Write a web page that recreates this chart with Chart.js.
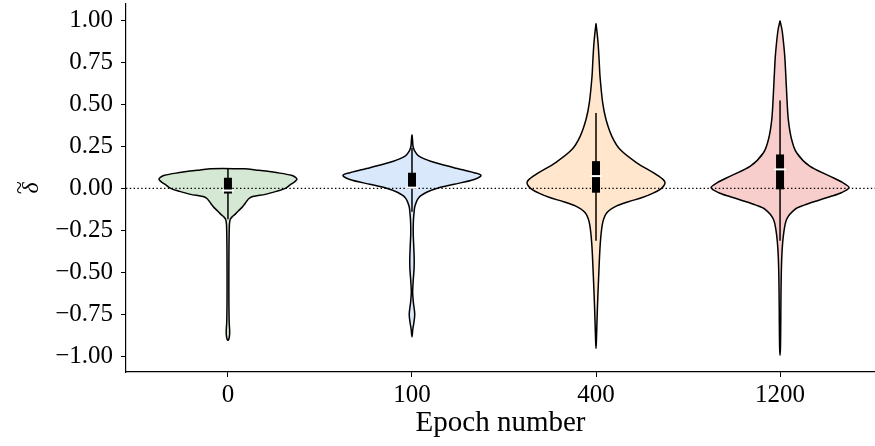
<!DOCTYPE html>
<html>
<head>
<meta charset="utf-8">
<script src="https://cdn.jsdelivr.net/npm/chart.js@4.4.1/dist/chart.umd.min.js"></script>
<style>
  html, body { margin: 0; padding: 0; background: #fff; }
  #wrap { width: 875px; height: 446px; }
</style>
</head>
<body>
<div id="wrap"><canvas id="graph1"></canvas></div>
<script>
// categories
const epochLabels = ['0', '100', '400', '1200'];
const violinColors = ['#d5e8d4', '#dae8fc', '#ffe6cc', '#f8cecc'];

// violin outlines: delta value and relative half width (1 = widest)
const violin0Y = [0.117, 0.110, 0.103, 0.094, 0.078, 0.065, 0.053, 0.040, 0.020, 0.0, -0.018, -0.036, -0.049, -0.062, -0.075, -0.095, -0.115, -0.135, -0.154, -0.170, -0.184, -0.205, -0.224, -0.30, -0.40, -0.50, -0.60, -0.70, -0.80, -0.85, -0.88, -0.90, -0.906];
const violin0W = [0.25, 0.40, 0.55, 0.70, 0.92, 0.98, 1.0, 0.97, 0.90, 0.83, 0.70, 0.54, 0.36, 0.30, 0.275, 0.24, 0.20, 0.15, 0.106, 0.06, 0.034, 0.024, 0.02, 0.016, 0.014, 0.013, 0.013, 0.014, 0.018, 0.025, 0.022, 0.012, 0];

const violin1Y = [0.320, 0.290, 0.251, 0.222, 0.192, 0.162, 0.123, 0.093, 0.077, 0.053, 0.024, 0.004, -0.022, -0.055, -0.105, -0.145, -0.20, -0.27, -0.34, -0.42, -0.48, -0.55, -0.62, -0.68, -0.75, -0.80, -0.84, -0.886];
const violin1W = [0, 0.008, 0.015, 0.04, 0.10, 0.27, 0.61, 0.90, 1.0, 0.90, 0.61, 0.39, 0.22, 0.10, 0.043, 0.03, 0.02, 0.018, 0.025, 0.032, 0.03, 0.018, 0.01, 0.02, 0.04, 0.028, 0.012, 0];

const violin2Y = [0.983, 0.930, 0.865, 0.767, 0.667, 0.509, 0.410, 0.310, 0.231, 0.152, 0.093, 0.053, 0.034, 0.014, -0.006, -0.030, -0.055, -0.080, -0.105, -0.144, -0.204, -0.322, -0.520, -0.718, -0.916, -0.955];
const violin2W = [0, 0.015, 0.03, 0.045, 0.058, 0.097, 0.145, 0.23, 0.35, 0.59, 0.83, 0.97, 1.0, 0.98, 0.93, 0.82, 0.67, 0.47, 0.30, 0.16, 0.097, 0.063, 0.039, 0.02, 0.005, 0];

const violin3Y = [0.999, 0.944, 0.850, 0.766, 0.568, 0.410, 0.291, 0.212, 0.132, 0.073, 0.034, 0.004, -0.026, -0.050, -0.075, -0.100, -0.125, -0.184, -0.283, -0.421, -0.620, -0.817, -0.950, -0.995];
const violin3W = [0, 0.029, 0.055, 0.072, 0.096, 0.12, 0.168, 0.24, 0.43, 0.72, 0.91, 1.0, 0.89, 0.72, 0.53, 0.35, 0.216, 0.096, 0.048, 0.024, 0.014, 0.01, 0.006, 0];

// inner box stats
const whiskerHigh = [0.117, 0.24, 0.449, 0.524];
const whiskerLow = [-0.184, -0.14, -0.313, -0.313];
const quart3 = [0.063, 0.093, 0.162, 0.202];
const quart1 = [-0.031, 0.0, -0.026, -0.006];
const medians = [-0.013, 0.004, 0.073, 0.113];

const yTicks = [-1, -0.75, -0.5, -0.25, 0, 0.25, 0.5, 0.75, 1];

const violinY = [violin0Y, violin1Y, violin2Y, violin3Y];
const violinW = [violin0W, violin1W, violin2W, violin3W];
const halfWidth = 0.375;
const xMin = -0.554;
const xMax = 3.516;

function outline(pos, ys, ws) {
    let pts = [];
    let i;
    for (i = 0; i < ys.length; i++) {
        pts.push({x: pos + ws[i] * halfWidth, y: ys[i]});
    }
    for (i = ys.length - 1; i >= 0; i--) {
        if (ws[i] > 0) {
            pts.push({x: pos - ws[i] * halfWidth, y: ys[i]});
        }
    }
    pts.push(pts[0]);
    return pts;
}

let datasets = [];
let k;
for (k = 0; k < epochLabels.length; k++) {
    datasets.push({
        data: outline(k, violinY[k], violinW[k]),
        showLine: true,
        fill: 'shape',
        backgroundColor: violinColors[k],
        borderColor: '#000',
        borderWidth: 1.5,
        tension: 0.3,
        pointRadius: 0,
        order: 4
    });
    datasets.push({
        data: [{x: k, y: whiskerLow[k]}, {x: k, y: whiskerHigh[k]}],
        showLine: true,
        borderColor: '#000',
        borderWidth: 1.5,
        pointRadius: 0,
        order: 2
    });
    datasets.push({
        data: [{x: k, y: quart1[k]}, {x: k, y: quart3[k]}],
        showLine: true,
        borderColor: '#000',
        borderWidth: 8,
        borderCapStyle: 'butt',
        pointRadius: 0,
        order: 1
    });
    datasets.push({
        data: [{x: k - 0.032, y: medians[k]}, {x: k + 0.032, y: medians[k]}],
        showLine: true,
        borderColor: '#fff',
        borderWidth: 2,
        borderCapStyle: 'butt',
        pointRadius: 0,
        order: 0
    });
}
datasets.push({
    data: [{x: xMin, y: 0}, {x: xMax, y: 0}],
    showLine: true,
    borderColor: '#000',
    borderWidth: 1.4,
    borderDash: [1.4, 2.4],
    pointRadius: 0,
    order: 3
});

let ctx = document.getElementById('graph1').getContext('2d');

let options = {
    responsive: true,
    maintainAspectRatio: false,
    animation: false,
    layout: {padding: {top: 4, right: 0, left: 0, bottom: 0}},
    plugins: {legend: {display: false}, tooltip: {enabled: false}},
    scales: {
        x: {
            type: 'linear',
            min: xMin,
            max: xMax,
            afterBuildTicks: function (scale) {
                scale.ticks = [0, 1, 2, 3].map(function (v) { return {value: v}; });
            },
            afterFit: function (scale) {
                scale.height = 74;
                scale.paddingLeft = 0;
                scale.paddingRight = 0;
            },
            grid: {drawOnChartArea: false, drawTicks: true, tickLength: 5, color: '#000'},
            border: {display: true, color: '#000', width: 1.2},
            ticks: {
                color: '#000',
                padding: 3,
                maxRotation: 0,
                font: {family: 'Liberation Serif', size: 25},
                callback: function (v) { return epochLabels[v]; }
            },
            title: {
                display: true,
                text: 'Epoch number',
                color: '#000',
                padding: {top: 0, bottom: 5},
                font: {family: 'Liberation Serif', size: 29}
            }
        },
        y: {
            type: 'linear',
            min: -1.095,
            max: 1.099,
            afterBuildTicks: function (scale) {
                scale.ticks = yTicks.map(function (v) { return {value: v}; });
            },
            afterFit: function (scale) {
                scale.width = 126;
                scale.paddingTop = 0;
                scale.paddingBottom = 0;
            },
            grid: {drawOnChartArea: false, drawTicks: true, tickLength: 5, color: '#000'},
            border: {display: true, color: '#000', width: 1.2},
            ticks: {
                color: '#000',
                padding: 8,
                font: {family: 'Liberation Serif', size: 25},
                callback: function (v) { return v.toFixed(2).replace('-', '\u2212'); }
            },
            title: {
                display: true,
                text: ['~', '\u03B4'],
                color: '#000',
                padding: {top: 15, bottom: 0},
                font: {family: 'Liberation Serif', size: 24, style: 'italic', lineHeight: 0.45}
            }
        }
    }
};

let config = {
    type: 'scatter',
    data: {datasets: datasets},
    options: options
};

let graph1 = new Chart(ctx, config);
</script>
</body>
</html>
